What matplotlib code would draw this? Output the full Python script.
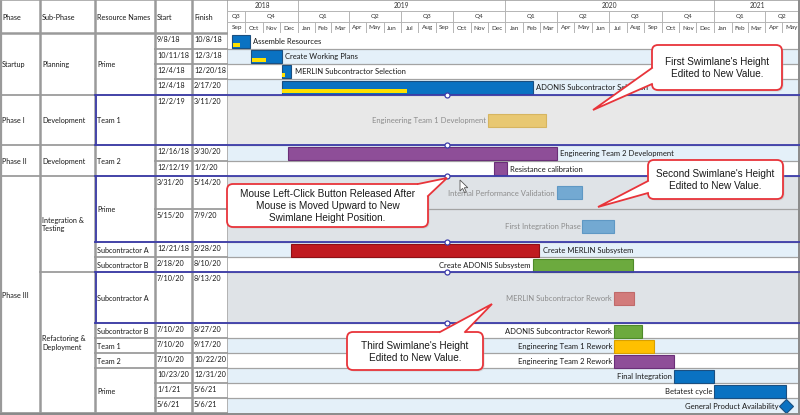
import matplotlib
matplotlib.use("Agg")
import matplotlib.pyplot as plt
import matplotlib.dates as mdates
from matplotlib.patches import FancyBboxPatch, Polygon
from datetime import datetime
import numpy as np

# ---------------- data ----------------
tasks = ["Assemble Resources", "Create Working Plans", "MERLIN Subcontractor Selection",
         "ADONIS Subcontractor Selection", "Engineering Team 1 Development",
         "Engineering Team 2 Development", "Resistance calibration",
         "Internal Performance Validation", "First Integration Phase",
         "Create MERLIN Subsystem", "Create ADONIS Subsystem",
         "MERLIN Subcontractor Rework", "ADONIS Subcontractor Rework",
         "Engineering Team 1 Rework", "Engineering Team 2 Rework",
         "Final Integration", "Betatest cycle", "General Product Availability"]
starts = ["9/8/18", "10/11/18", "12/4/18", "12/4/18", "12/2/19", "12/16/18", "12/12/19",
          "3/31/20", "5/15/20", "12/21/18", "2/18/20", "7/10/20", "7/10/20", "7/10/20",
          "7/10/20", "10/23/20", "1/1/21", "5/6/21"]
finishes = ["10/8/18", "12/3/18", "12/20/18", "2/17/20", "3/11/20", "3/30/20", "1/2/20",
            "5/14/20", "7/9/20", "2/28/20", "8/10/20", "8/13/20", "8/27/20", "9/17/20",
            "10/22/20", "12/31/20", "5/6/21", "5/6/21"]
progress = [45, 50, 40, 50, 0, 0, 0, 0, 0, 0, 0, 0, 0, 0, 0, 0, 0, 0]

phases = ["Startup", "Phase I", "Phase II", "Phase III"]
phase_rows = [4, 1, 2, 11]
subphases = ["Planning", "Development", "Development", "Integration &\nTesting",
             "Refactoring &\nDeployment"]
subphase_rows = [4, 1, 2, 4, 7]
resources = ["Prime", "Team 1", "Team 2", "Prime", "Subcontractor A", "Subcontractor B",
             "Subcontractor A", "Subcontractor B", "Team 1", "Team 2", "Prime"]
resource_rows = [4, 1, 2, 2, 1, 1, 1, 1, 1, 1, 3]
columns = ["Phase", "Sub-Phase", "Resource Names", "Start", "Finish"]
years = ["2018", "2019", "2020", "2021"]
quarter_names = ["Q1", "Q2", "Q3", "Q4"]
month_names = ["Jan", "Feb", "Mar", "Apr", "May", "Jun", "Jul", "Aug", "Sep", "Oct",
               "Nov", "Dec"]
timeline_start = "9/1/18"
timeline_end = "6/1/21"
callout_texts = ["First Swimlane's Height\nEdited to New Value.",
                 "Second Swimlane's Height\nEdited to New Value.",
                 "Mouse Left-Click Button Released After\nMouse is Moved Upward to New\nSwimlane Height Position.",
                 "Third Swimlane's Height\nEdited to New Value."]

# ---------------- layout / style ----------------
W, H = 800, 415
HEAD = 33
row_px = [16, 15, 15, 16, 50, 16, 15, 33, 33, 15, 15, 51, 15, 15, 15, 15, 15, 15]
col_x = [0, 40, 95, 155, 192, 228]
BLUE, BLUE_E = "#0A72C2", "#1B4F80"
PURP, PURP_E = "#8E4E98", "#6A2F78"
RED_, RED_E = "#C01A20", "#8E1015"
GRN, GRN_E = "#6CAA3E", "#4E8A2A"
ORG, ORG_E = "#FFC000", "#D9A000"
bar_colors = [BLUE, BLUE, BLUE, BLUE, "#E8C872", PURP, PURP, "#73A9D2", "#73A9D2", RED_, GRN,
              "#D27B7B", GRN, ORG, PURP, BLUE, BLUE, BLUE]
edge_colors = [BLUE_E, BLUE_E, BLUE_E, BLUE_E, "#D6B560", PURP_E, PURP_E, "#5F98C4", "#5F98C4",
               RED_E, GRN_E, "#C06A6A", GRN_E, ORG_E, PURP_E, BLUE_E, BLUE_E, BLUE_E]
faded = [False, False, False, False, True, False, False, True, True, False, False, True,
         False, False, False, False, False, False]
label_left = [False, False, False, False, True, False, False, True, True, False, True, True,
              True, True, True, True, True, True]
LB, WH_, G1, G2 = "#E4F0F9", "#FFFFFF", "#E8E8E8", "#DFE3E7"
row_bg = [WH_, LB, WH_, LB, G1, LB, WH_, G2, G2, LB, WH_, G2, WH_, LB, WH_, LB, WH_, LB]
selected_rows = [(4, 5), (7, 9), (11, 12)]
GRID = "#A3A3A3"
SWIM = "#3D3DAA"
FONT = ["Lato", "DejaVu Sans"]
plt.rcParams["font.family"] = FONT

edges = HEAD + np.concatenate([[0], np.cumsum(row_px)])
BOTTOM = edges[-1]


def d(s):
    return mdates.date2num(datetime.strptime(s, "%m/%d/%y"))


fig = plt.figure(figsize=(W / 100, H / 100), dpi=100)
fig.patch.set_facecolor("white")

x0, x1 = d(timeline_start), d(timeline_end)
gw = (W - col_x[-1]) / W

# ---------------- gantt body ----------------
axg = fig.add_axes([col_x[-1] / W, (H - BOTTOM) / H, gw, (BOTTOM - HEAD) / H])
axg.set_xlim(x0, x1)
axg.set_ylim(BOTTOM, HEAD)
axg.axis("off")
for i, c in enumerate(row_bg):
    axg.axhspan(edges[i], edges[i + 1], color=c, lw=0, zorder=0)
for e in edges[1:-1]:
    axg.axhline(e, color=GRID, lw=0.9, zorder=1)

for i, name in enumerate(tasks):
    s, f = d(starts[i]), d(finishes[i])
    yc = (edges[i] + edges[i + 1]) / 2 + 0.5
    txtcol = "#8C8C8C" if faded[i] else "#1A1A1A"
    if s == f:
        axg.plot(s + 1, yc, marker="D", ms=7.5, mfc=BLUE, mec=BLUE_E, mew=0.8, zorder=4)
        axg.annotate(name, (s + 1, yc), xytext=(-5.5, 0), textcoords="offset points",
                     ha="right", va="center", fontsize=5.5, color=txtcol, zorder=4)
        continue
    f = f + 1
    axg.barh(yc, f - s, left=s, height=13, color=bar_colors[i], edgecolor=edge_colors[i],
             lw=0.8, zorder=3)
    if progress[i]:
        axg.barh(yc + 3.2, (f - s) * progress[i] / 100 - 1.5, left=s + 1.5, height=3.8,
                 color="#FFE000", lw=0, zorder=3.5)
    if label_left[i]:
        axg.annotate(name, (s, yc), xytext=(-1.5, 0), textcoords="offset points",
                     ha="right", va="center", fontsize=5.5, color=txtcol, zorder=4)
    else:
        axg.annotate(name, (f, yc), xytext=(2.5, 0), textcoords="offset points",
                     ha="left", va="center", fontsize=5.5, color=txtcol, zorder=4)

# ---------------- gantt header ----------------
axh = fig.add_axes([col_x[-1] / W, (H - HEAD) / H, gw, HEAD / H])
axh.set_xlim(x0, x1)
axh.set_ylim(HEAD, 0)
axh.axis("off")
HC = "#B5B5B5"
months = []
ds = datetime.strptime(timeline_start, "%m/%d/%y")
de = datetime.strptime(timeline_end, "%m/%d/%y")
y, m = ds.year, ds.month
while datetime(y, m, 1) < de:
    ny, nm = (y + 1, 1) if m == 12 else (y, m + 1)
    months.append((y, m, mdates.date2num(datetime(y, m, 1)), mdates.date2num(datetime(ny, nm, 1))))
    y, m = ny, nm
# month row
for (yy, mm, a, b) in months:
    axh.text((a + b) / 2, 28, month_names[mm - 1], ha="center", va="center", fontsize=4.6,
             color="#333333")
    axh.plot([b, b], [22, 33], color=HC, lw=0.7)
# quarter row
quarters = {}
for (yy, mm, a, b) in months:
    k = (yy, (mm - 1) // 3)
    quarters.setdefault(k, [a, b])
    quarters[k][1] = b
for (yy, q), (a, b) in quarters.items():
    axh.text((a + b) / 2, 16.5, quarter_names[q], ha="center", va="center", fontsize=4.6,
             color="#333333")
    axh.plot([b, b], [11, 22], color=HC, lw=0.7)
# year row
ys = {}
for (yy, mm, a, b) in months:
    ys.setdefault(yy, [a, b])
    ys[yy][1] = b
for label, (yy, (a, b)) in zip(years, ys.items()):
    axh.text((a + b) / 2, 5.5, label, ha="center", va="center", fontsize=4.8, color="#333333")
    axh.plot([b, b], [0, 11], color=HC, lw=0.7)
for yy in (11, 22):
    axh.axhline(yy, color=HC, lw=0.7)
axh.axhline(0.5, color=GRID, lw=1.2)

# ---------------- table ----------------
axt = fig.add_axes([0, 0, col_x[-1] / W, 1])
axt.set_xlim(0, col_x[-1])
axt.set_ylim(H, 0)
axt.axis("off")
TF = 5.25
for j, c in enumerate(columns):
    axt.text(col_x[j] + 2, HEAD / 2 + 1, c, ha="left", va="center", fontsize=TF, color="#1A1A1A")


def spans(counts):
    out, r = [], 0
    for c in counts:
        out.append((r, r + c))
        r += c
    return out


for col, (labels, counts) in enumerate([(phases, phase_rows), (subphases, subphase_rows),
                                         (resources, resource_rows)]):
    for lab, (r0, r1) in zip(labels, spans(counts)):
        yc = (edges[r0] + edges[r1]) / 2 + 0.5
        axt.text(col_x[col] + 2, yc, lab, ha="left", va="center", fontsize=TF,
                 color="#1A1A1A", linespacing=1.2)
        axt.plot([col_x[col], col_x[col + 1]], [edges[r1], edges[r1]], color=GRID, lw=1.4)
for i in range(len(tasks)):
    axt.text(col_x[3] + 2, edges[i] + 6.5, starts[i], ha="left", va="center", fontsize=TF,
             color="#1A1A1A")
    axt.text(col_x[4] + 2, edges[i] + 6.5, finishes[i], ha="left", va="center", fontsize=TF,
             color="#1A1A1A")
    axt.plot([col_x[3], col_x[5]], [edges[i + 1], edges[i + 1]], color=GRID, lw=1.4)
for x in col_x[1:]:
    axt.plot([x, x], [0, BOTTOM], color="#9A9A9A", lw=1.8, zorder=3)
axt.plot([0.8, 0.8], [0, BOTTOM], color="#9A9A9A", lw=1.6)
axt.plot([0, col_x[-1]], [HEAD, HEAD], color="#9A9A9A", lw=1.8)
axt.plot([0, col_x[-1]], [0.5, 0.5], color=GRID, lw=1.2)

# ---------------- overlay: swimlanes, callouts ----------------
axo = fig.add_axes([0, 0, 1, 1], zorder=10)
axo.set_xlim(0, W)
axo.set_ylim(H, 0)
axo.axis("off")
axo.patch.set_alpha(0)
axo.plot([0, W], [BOTTOM + 1, BOTTOM + 1], color="#8A8A8A", lw=1.4)
axo.plot([W - 0.8, W - 0.8], [0, BOTTOM], color="#8A8A8A", lw=1.4)
HX = 447
for r0, r1 in selected_rows:
    for e in (edges[r0], edges[r1]):
        axo.plot([col_x[2], W], [e, e], color=SWIM, lw=1.3, zorder=5)
        axo.plot(HX, e, marker="o", ms=3.6, mfc="white", mec=SWIM, mew=0.9, zorder=6)
    axo.plot([col_x[2] + 0.5, col_x[2] + 0.5], [edges[r0], edges[r1]], color=SWIM, lw=1.3,
             zorder=5)

REDC = "#E8343A"


def callout(box, inner, base1, tip, base2, text):
    bx0, by0, bx1, by1 = box
    axo.add_patch(FancyBboxPatch((bx0 + 1.5, by0 + 1.5), bx1 - bx0, by1 - by0,
                                 boxstyle="round,pad=0,rounding_size=6", fc="#BBBBBB",
                                 ec="none", alpha=0.5, zorder=19))
    axo.add_patch(FancyBboxPatch((bx0, by0), bx1 - bx0, by1 - by0,
                                 boxstyle="round,pad=0,rounding_size=6", fc="white",
                                 ec=REDC, lw=1.3, zorder=20))
    axo.add_patch(Polygon([inner[0], base1, tip, base2, inner[1]], closed=True, fc="white",
                          ec="none", zorder=21))
    axo.plot([base1[0], tip[0], base2[0]], [base1[1], tip[1], base2[1]], color=REDC, lw=1.3,
             zorder=22, solid_joinstyle="miter")
    axo.text((bx0 + bx1) / 2, (by0 + by1) / 2 + 0.5, text, ha="center", va="center",
             fontsize=7.2, family=["Liberation Sans", "DejaVu Sans"], color="#1A1A1A",
             linespacing=1.25, zorder=23)


callout((652, 45, 782, 90), [(656, 68), (656, 84)], (652, 68), (593, 110), (652, 84),
        callout_texts[0])
callout((648, 160, 783, 199), [(652, 181), (652, 193)], (648, 181), (598, 207), (648, 193),
        callout_texts[1])
callout((227, 184, 428, 227), [(418, 188), (424, 196)], (418, 184), (447, 178), (428, 196),
        callout_texts[2])
callout((347, 332, 483, 370), [(440, 336), (465, 336)], (440, 332), (492, 304), (465, 332),
        callout_texts[3])

# mouse cursor
cx, cy = 460, 180
cur = [(0, 0), (0, 11), (2.6, 8.4), (4.6, 12.6), (6.3, 11.8), (4.3, 7.7), (7.8, 7.7)]
axo.add_patch(Polygon([(cx + a, cy + b) for a, b in cur], closed=True, fc="white",
                      ec="#555555", lw=0.6, zorder=8))

fig.savefig("out.png", dpi=100, facecolor="white")
